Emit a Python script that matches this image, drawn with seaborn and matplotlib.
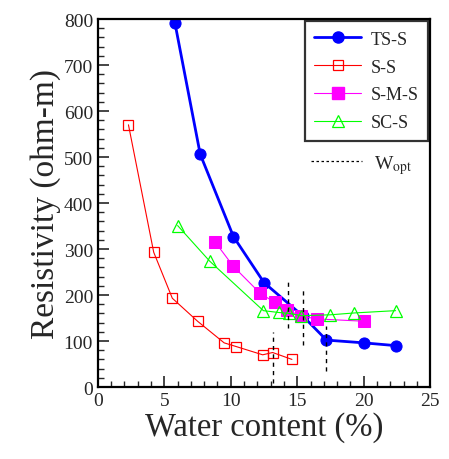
import numpy as np
import pandas as pd
import matplotlib
matplotlib.use("Agg")
import matplotlib.pyplot as plt
import seaborn as sns
from matplotlib.lines import Line2D
from matplotlib.ticker import MultipleLocator

# data
ts_x = [5.8, 7.7, 10.2, 12.5, 15.4, 17.2, 20.0, 22.4]
ts_y = [791, 506, 327, 227, 155, 102, 96, 90]

ss_x = [2.3, 4.2, 5.6, 7.5, 9.5, 10.4, 12.4, 13.15, 14.6]
ss_y = [570, 293, 193, 143, 96, 88, 70, 75, 60]

sms_x = [8.8, 10.2, 12.2, 13.3, 14.2, 15.3, 16.5, 20.0]
sms_y = [316, 262, 204, 184, 168, 154, 148, 143]

scs_x = [6.0, 8.4, 12.45, 13.6, 14.4, 15.3, 17.5, 19.3, 22.4]
scs_y = [351, 274, 166, 162, 160, 155, 157, 161, 166]

# W_opt markers: x, y bottom, y top
wopt_x = [13.15, 14.3, 15.4, 17.2]
wopt_lo = [8, 128, 91, 35]
wopt_hi = [120, 233, 215, 133]

sns.set_style("ticks")
plt.rcParams["font.family"] = ["Liberation Serif", "DejaVu Serif"]
plt.rcParams["mathtext.fontset"] = "stix"

fig = plt.figure(figsize=(4.49, 4.6), dpi=100)
ax = fig.add_axes([0.218, 0.1565, 0.74, 0.8])

series = [
    ("TS-S", ts_x, ts_y, dict(color="#0000ff", marker="o", markersize=8, linewidth=2.0,
                              markerfacecolor="#0000ff", markeredgecolor="#0000ff")),
    ("S-S", ss_x, ss_y, dict(color="#ff0000", marker="s", markersize=7.5, linewidth=0.8,
                             markerfacecolor="none", markeredgecolor="#ff0000", markeredgewidth=0.9)),
    ("S-M-S", sms_x, sms_y, dict(color="#ff00ff", marker="s", markersize=8, linewidth=0.8,
                                 markerfacecolor="#ff00ff", markeredgecolor="#ff00ff")),
    ("SC-S", scs_x, scs_y, dict(color="#00ff00", marker="^", markersize=8.5, linewidth=0.8,
                                markerfacecolor="none", markeredgecolor="#00ff00", markeredgewidth=0.9)),
]

handles = []
for name, xs, ys, style in series:
    df = pd.DataFrame({"x": xs, "y": ys})
    sns.lineplot(data=df, x="x", y="y", sort=False, ax=ax, **style)
    handles.append(Line2D([], [], label=name, **style))

for x, lo, hi in zip(wopt_x, wopt_lo, wopt_hi):
    ax.plot([x, x], [lo, hi], color="black", linestyle=(0, (3, 3)), linewidth=1.0)

ax.set_xlim(0, 25)
ax.set_ylim(0, 800)
ax.xaxis.set_major_locator(MultipleLocator(5))
ax.xaxis.set_minor_locator(MultipleLocator(1))
ax.yaxis.set_major_locator(MultipleLocator(100))
ax.yaxis.set_minor_locator(MultipleLocator(20))
ax.tick_params(axis="both", which="major", direction="in", length=8, width=1.2, labelsize=14)
ax.tick_params(axis="both", which="minor", direction="in", length=4, width=1.0)
for s in ax.spines.values():
    s.set_linewidth(1.6)
    s.set_color("black")

ax.set_xlabel("Water content (%)", fontsize=23.5, labelpad=2)
ax.set_ylabel("Resistivity (ohm-m)", fontsize=24, labelpad=2)

leg = ax.legend(handles=handles, loc="upper right", fontsize=13, frameon=True, fancybox=False,
                edgecolor="black", borderaxespad=0.1, handlelength=2.6, handletextpad=0.5,
                labelspacing=0.6, borderpad=0.55)
leg.get_frame().set_linewidth(1.6)
ax.add_artist(leg)

wh = [Line2D([], [], color="black", linestyle=(0, (2, 2)), linewidth=0.9, label=r"W$_{\rm opt}$")]
ax.legend(handles=wh, loc="center left", bbox_to_anchor=(0.59, 0.605), fontsize=14, frameon=False,
          handlelength=2.6, handletextpad=0.6)

fig.savefig("out.png", dpi=100)
